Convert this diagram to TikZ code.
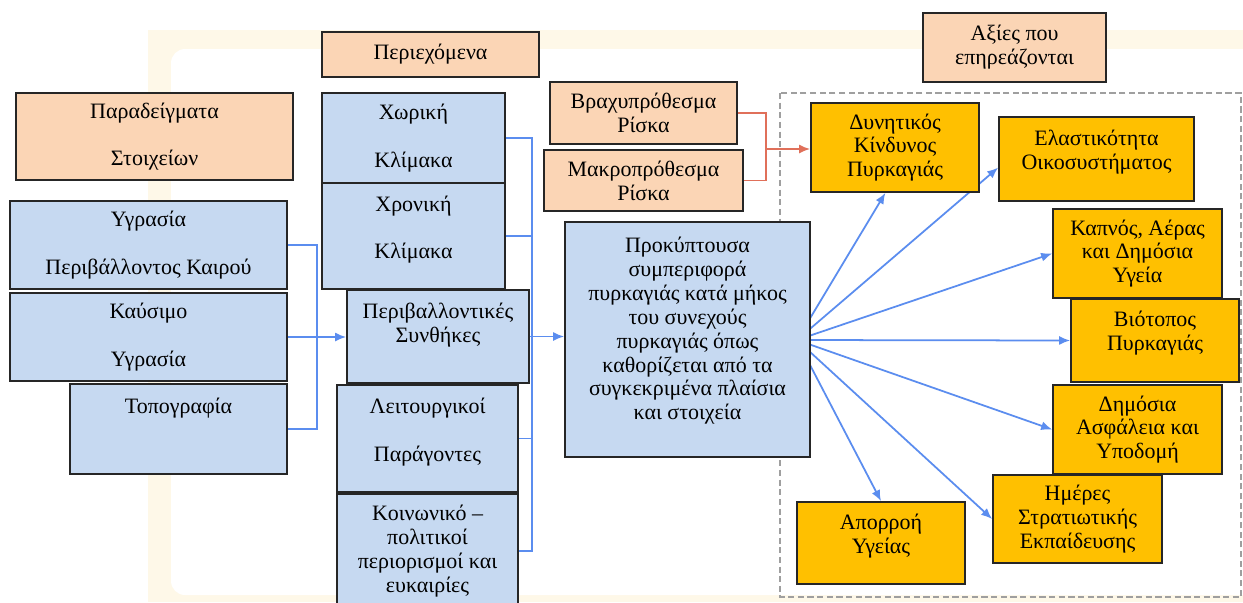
\documentclass[tikz,border=0pt]{standalone}
\usepackage{fontspec}
\setmainfont{Liberation Serif}
\usetikzlibrary{arrows.meta,positioning,calc}
\definecolor{peachF}{HTML}{FBD5B5}
\definecolor{blueF}{HTML}{C6D9F1}
\definecolor{goldF}{HTML}{FFC000}
\definecolor{lineB}{HTML}{5B8DEF}
\definecolor{lineR}{HTML}{E0705A}
\definecolor{creamB}{HTML}{FEF8E8}
\newcommand{\boxfont}{\fontsize{12.5}{13.6}\selectfont}
\pgfdeclarelayer{bg}
\pgfdeclarelayer{fan}
\pgfsetlayers{bg,fan,main}
\tikzset{
  cbox/.style={rectangle, draw=black!85, line width=1pt, fill=#1,
               align=center, font=\boxfont, inner sep=2pt},
  bus/.style={line width=1pt, draw=lineB},
  arr/.style={-{Latex[length=2.2mm,width=1.8mm]}, line width=1pt, draw=lineB, fill=lineB},
  rbus/.style={line width=1pt, draw=lineR},
  rarr/.style={-{Latex[length=2.2mm,width=1.8mm]}, line width=1pt, draw=lineR, fill=lineR},
}

\begin{document}
\begin{tikzpicture}[x=0.02cm, y=-0.02cm]
  \useasboundingbox (0,0) rectangle (1243,602);
  \begin{pgfonlayer}{bg}
    \fill[creamB] (148,30) rectangle (1243,602);
    \fill[white, rounded corners=8pt] (1243,49) -- (171,49) -- (171,595) -- (1243,595);
    \draw[gray!75, line width=1pt, dash pattern=on 3.5pt off 2pt] (780,93) rectangle (1241,597);
  \end{pgfonlayer}

  % examples
  \node[cbox=peachF, minimum width=5.54cm, minimum height=1.74cm] (parad) at (154.5,136.5)
    {Παραδείγματα\\[13.6pt]Στοιχείων};
  \node[cbox=blueF, minimum width=5.54cm, minimum height=1.76cm] (ygr) at (148.5,245)
    {Υγρασία\\[13.6pt]Περιβάλλοντος Καιρού};
  \node[cbox=blueF, minimum width=5.54cm, minimum height=1.76cm] (kaus) at (148.5,337)
    {Καύσιμο\\[13.6pt]Υγρασία};
  \node[cbox=blueF, minimum width=4.34cm, minimum height=1.80cm] (topo) at (178.5,429)
    {Τοπογραφία\\[12.4pt]\mbox{}};

  % contents
  \node[cbox=peachF, minimum width=4.34cm, minimum height=0.90cm] (peri) at (430.5,54.5)
    {Περιεχόμενα};
  \node[cbox=blueF, minimum width=3.66cm, minimum height=1.80cm] (xor) at (413.5,138)
    {Χωρική\\[13.6pt]Κλίμακα};
  \node[cbox=blueF, minimum width=3.66cm, minimum height=2.12cm] (xron) at (413.5,236)
    {Χρονική\\[13.6pt]Κλίμακα\\[-3.6pt]\mbox{}};
  \node[cbox=blueF, minimum width=3.64cm, minimum height=1.86cm] (env) at (438,336.5)
    {Περιβαλλοντικές\\Συνθήκες\\[2.4pt]\mbox{}};
  \node[cbox=blueF, minimum width=3.62cm, minimum height=2.14cm] (leit) at (427.5,438.5)
    {Λειτουργικοί\\[13.6pt]Παράγοντες\\[-3.6pt]\mbox{}};
  \node[cbox=blueF, minimum width=3.62cm, minimum height=2.28cm] (koin) at (427.5,551)
    {Κοινωνικό --\\πολιτικοί\\περιορισμοί και\\ευκαιρίες};

  % risk
  \node[cbox=peachF, minimum width=3.74cm, minimum height=1.24cm] (brax) at (643.5,113)
    {Βραχυπρόθεσμα\\Ρίσκα};
  \node[cbox=peachF, minimum width=3.98cm, minimum height=1.22cm] (makro) at (643.5,180.5)
    {Μακροπρόθεσμα\\Ρίσκα};
  \node[cbox=blueF, minimum width=4.90cm, minimum height=4.70cm] (prok) at (687.5,339.5)
    {Προκύπτουσα\\συμπεριφορά\\πυρκαγιάς κατά μήκος\\του συνεχούς\\πυρκαγιάς όπως\\καθορίζεται από τα\\συγκεκριμένα πλαίσια\\και στοιχεία\\[-1pt]\mbox{}};

  % values
  \node[cbox=peachF, minimum width=3.66cm, minimum height=1.38cm] (axies) at (1014.5,47.5)
    {Αξίες που\\επηρεάζονται};
  \node[cbox=goldF, minimum width=3.36cm, minimum height=1.78cm] (dyn) at (895,147.5)
    {Δυνητικός\\Κίνδυνος\\Πυρκαγιάς};
  \node[cbox=goldF, minimum width=3.90cm, minimum height=1.68cm] (elast) at (1096.5,159)
    {Ελαστικότητα\\Οικοσυστήματος\\[-2.8pt]\mbox{}};
  \node[cbox=goldF, minimum width=3.38cm, minimum height=1.78cm] (kap) at (1137.5,253.5)
    {Καπνός, Αέρας\\και Δημόσια\\Υγεία};
  \node[cbox=goldF, minimum width=3.36cm, minimum height=1.66cm] (vio) at (1155,340.5)
    {Βιότοπος\\Πυρκαγιάς\\[-2.3pt]\mbox{}};
  \node[cbox=goldF, minimum width=3.38cm, minimum height=1.78cm] (dim) at (1137.5,429.5)
    {Δημόσια\\Ασφάλεια και\\Υποδομή};
  \node[cbox=goldF, minimum width=3.38cm, minimum height=1.76cm] (imer) at (1077.5,519)
    {Ημέρες\\Στρατιωτικής\\Εκπαίδευσης};
  \node[cbox=goldF, minimum width=3.36cm, minimum height=1.64cm] (apor) at (881,543)
    {Απορροή\\Υγείας\\[-2.8pt]\mbox{}};

  % left bus
  \coordinate (lj) at (317,337);
  \draw[bus] (ygr.east) -| (lj);
  \draw[bus] (topo.east) -| (lj);
  \draw[arr] (kaus.east) -- (kaus.east -| env.west);

  % middle bus
  \coordinate (mj) at (532,337);
  \draw[bus] (xor.east) -| (mj);
  \draw[bus] (xron.east) -| (mj);
  \draw[bus] (leit.east) -| (mj);
  \draw[bus] (koin.east) -| (mj);
  \draw[arr] (env.east) -- (env.east -| prok.west);

  % risk bus
  \coordinate (rj) at (766,149);
  \draw[rbus] (brax.east) -| (rj);
  \draw[rbus] (makro.east) -| (rj);
  \draw[rarr] (rj) -- (rj -| dyn.west);

  % fan to values
  \coordinate (fan) at (797,340);
  \begin{pgfonlayer}{fan}
    \foreach \t in {dyn.-102, elast.185, kap.west, vio.west, dim.west, imer.west, apor.north}
      \draw[arr] (fan) -- (\t);
  \end{pgfonlayer}
\end{tikzpicture}
\end{document}
